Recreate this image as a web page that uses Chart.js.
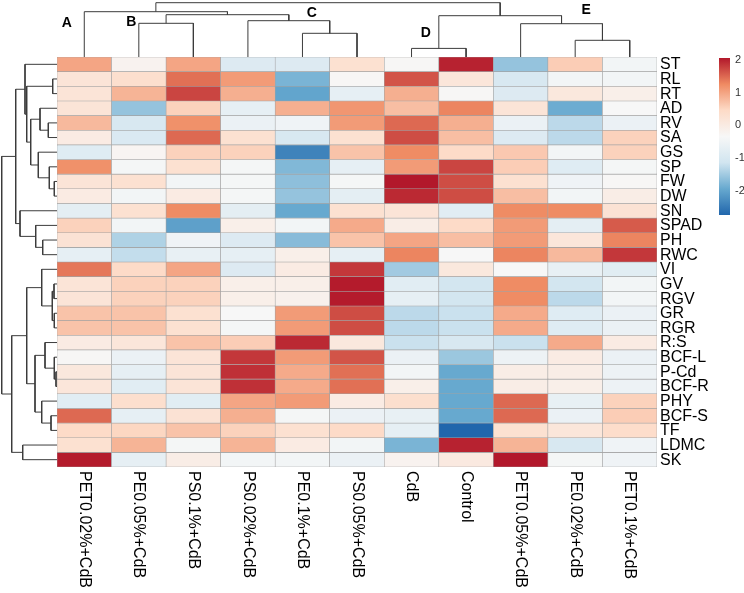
<!DOCTYPE html>
<html><head><meta charset="utf-8">
<script src="https://cdn.jsdelivr.net/npm/chart.js@4.4.1/dist/chart.umd.min.js"></script>
<style>html,body{margin:0;padding:0;background:#fff;}#wrap{width:744px;height:593px;position:relative;}</style>
</head><body><div id="wrap"><canvas id="c" width="744" height="593"></canvas></div>
<script>
// ---------- DATA ----------
const columns = ['PET0.02%+CdB','PE0.05%+CdB','PS0.1%+CdB','PS0.02%+CdB','PE0.1%+CdB','PS0.05%+CdB','CdB','Control','PET0.05%+CdB','PE0.02%+CdB','PET0.1%+CdB'];
const rows = ['ST','RL','RT','AD','RV','SA','GS','SP','FW','DW','SN','SPAD','PH','RWC','VI','GV','RGV','GR','RGR','R:S','BCF-L','P-Cd','BCF-R','PHY','BCF-S','TF','LDMC','SK'];

const row_ST   = [1.0, -0.2, 1.0, -0.9, -0.9, 0.3, -0.3, 2.0, -1.6, 0.6, -0.45];
const row_RL   = [0.2, 0.35, 1.45, 1.1, -1.8, -0.3, 1.65, 0.15, -1.0, -0.45, -0.45];
const row_RT   = [0.2, 0.85, 1.75, 0.9, -2.0, -0.7, 0.9, -0.3, -0.9, 0.1, -0.1];
const row_AD   = [0.2, -1.6, 0.55, -0.7, 0.9, 1.15, 0.75, 1.3, 0.2, -1.9, -0.35];
const row_RV   = [0.8, -1.0, 1.2, -0.6, -0.5, 1.1, 1.5, 0.9, -0.6, -1.3, -0.6];
const row_SA   = [0.0, -0.95, 1.5, 0.3, -1.0, 0.3, 1.7, 0.75, -0.9, -1.3, 0.55];
const row_GS   = [-0.85, -0.25, 0.55, 0.55, -2.4, 0.7, 1.25, 0.45, 0.65, -0.45, 0.55];
const row_SP   = [1.2, -0.4, 0.3, -0.4, -1.75, -0.7, 1.1, 1.75, 0.6, -0.85, -0.4];
const row_FW   = [0.2, 0.3, -0.45, -0.4, -1.65, -0.4, 2.07, 1.7, 0.3, -0.5, -0.3];
const row_DW   = [0.0, -0.45, 0.0, -0.4, -1.6, -0.75, 1.95, 1.7, 0.75, -0.45, -0.05];
const row_SN   = [-0.75, 0.3, 1.25, -0.75, -1.95, 0.3, 0.2, -0.8, 1.25, 1.25, 0.25];
const row_SPAD = [0.55, -0.45, -2.05, -0.1, -0.45, 0.95, -0.05, 0.45, 1.1, -0.75, 1.6];
const row_PH   = [0.25, -1.4, -0.5, -0.9, -1.7, 0.7, 1.0, 0.75, 1.1, 0.15, 1.3];
const row_RWC  = [-0.7, -1.25, -0.65, -0.7, -0.1, -0.7, 1.3, -0.35, 1.3, 0.8, 1.85];
const row_VI   = [1.4, 0.45, 1.0, -0.9, 0.0, 1.85, -1.5, 0.1, -0.35, -0.65, -0.8];
const row_GV   = [0.2, 0.55, 0.55, -0.1, -0.1, 2.05, -0.8, -1.1, 1.25, -1.1, -0.45];
const row_RGV  = [0.2, 0.55, 0.55, -0.1, -0.15, 2.05, -0.7, -1.1, 1.25, -1.3, -0.45];
const row_GR   = [0.7, 0.7, 0.3, -0.35, 1.1, 1.7, -1.3, -1.2, 0.95, -0.85, -0.6];
const row_RGR  = [0.7, 0.7, 0.3, -0.4, 1.1, 1.7, -1.3, -1.2, 0.95, -0.85, -0.6];
const row_RS   = [0.0, 0.15, 0.7, 0.6, 1.95, 0.1, -1.2, -1.0, -1.2, 0.95, 0.0];
const row_BCFL = [-0.3, -0.6, 0.2, 1.85, 1.1, 1.65, -0.6, -1.55, -0.55, 0.0, -0.6];
const row_PCd  = [0.1, -0.7, 0.2, 1.9, 0.95, 1.45, -0.45, -1.95, -0.05, -0.05, -0.55];
const row_BCFR = [0.15, -0.8, 0.2, 1.9, 0.95, 1.45, -0.1, -1.95, -0.05, -0.1, -0.55];
const row_PHY  = [-0.8, 0.35, -0.8, 1.0, 1.1, 0.0, 0.35, -1.95, 1.5, -0.65, 0.55];
const row_BCFS = [1.5, -0.7, 0.25, 0.9, -0.4, -0.6, -0.65, -1.95, 1.5, -0.6, 0.6];
const row_TF   = [0.45, 0.5, 0.7, 0.55, 0.3, 0.45, -0.7, -2.75, 0.3, 0.15, 0.4];
const row_LDMC = [0.3, 0.85, -0.4, 0.85, 0.0, -0.45, -1.8, 2.0, 0.85, -1.0, -0.5];
const row_SK   = [2.05, -0.7, -0.05, -0.45, -0.45, -0.6, -0.2, 0.05, 2.07, -0.4, -0.5];

const matrix = [row_ST,row_RL,row_RT,row_AD,row_RV,row_SA,row_GS,row_SP,row_FW,row_DW,row_SN,row_SPAD,row_PH,row_RWC,row_VI,row_GV,row_RGV,row_GR,row_RGR,row_RS,row_BCFL,row_PCd,row_BCFR,row_PHY,row_BCFS,row_TF,row_LDMC,row_SK];

// colour scale (legend)
const colorMin = -2.75, colorMax = 2.07;
const legendTicks = [2, 1, 0, -1, -2];
const paletteStops = ['#2166AC','#67A9CF','#D1E5F0','#F7F7F7','#FDDBC7','#EF8A62','#B2182B'];

// column dendrogram (R hclust style: negative = leaf index+1, positive = merge number)
const colMerge = [[-2,-3],[-5,-6],[-4,2],[1,3],[-1,4],[-7,-8],[-10,-11],[-9,7],[6,8],[5,9]];
const colHeight = [33.7, 23.7, 36.3, 42.3, 45.3, 8.6, 16.7, 33.3, 41.3, 54.3];
const clusterNames = ['A','B','C','D','E'];
const clusterNameCol = [-0.32, 0.86, 4.17, 6.26, 9.2];
const clusterNameHeight = [34, 35, 44, 24, 46.5];

// row dendrogram
const rowMerge = [[-2,-3],[-5,-6],[-4,2],[-9,-10],[-8,4],[-7,5],[3,6],[1,7],[-1,8],[-13,-14],[-12,10],[-11,11],[9,12],
  [-16,-17],[-18,-19],[14,15],[-15,16],[-22,-23],[-21,18],[-20,19],[-25,-26],[-24,21],[20,22],[17,23],[-27,-28],[24,25],[13,26]];
const rowHeight = [4.3, 8.7, 17, 2.7, 7.7, 18.7, 26.3, 30.3, 32, 14.3, 21.3, 37, 41.3,
  3, 2.7, 4.7, 15.3, 1, 2.7, 12, 6, 15.3, 22, 30.3, 34.3, 45.3, 55.3];

// ---------- LAYOUT ----------
const PAD = {left: 57, top: 57, right: 87, bottom: 126};
const areaW = 744 - PAD.left - PAD.right, areaH = 593 - PAD.top - PAD.bottom;
const colPx = areaW / columns.length, rowPx = areaH / rows.length;
const FONT = "'Liberation Sans', Arial, Helvetica, sans-serif";

function hexToRgb(h){return [parseInt(h.slice(1,3),16),parseInt(h.slice(3,5),16),parseInt(h.slice(5,7),16)];}
const stopRgb = paletteStops.map(hexToRgb);
function colorFor(v){
  let t = (v - colorMin) / (colorMax - colorMin);
  t = Math.max(0, Math.min(1, t));
  const s = t * (stopRgb.length - 1);
  const i = Math.min(stopRgb.length - 2, Math.floor(s));
  const f = s - i;
  const a = stopRgb[i], b = stopRgb[i+1];
  return 'rgb(' + a.map((x,k)=>Math.round(x + (b[k]-x)*f)).join(',') + ')';
}

function buildDendro(merge, heights, leafPos, toPoint){
  const pos = [], hh = [];
  const pts = [];
  const get = (n) => n < 0 ? [leafPos(-n-1), 0] : [pos[n-1], hh[n-1]];
  merge.forEach((m, k) => {
    const [pa, ha] = get(m[0]);
    const [pb, hb] = get(m[1]);
    const H = heights[k];
    pts.push(toPoint(pa, ha), toPoint(pa, H), toPoint(pb, H), toPoint(pb, hb));
    pts.push({x: 0, y: null});
    pos.push((pa + pb) / 2); hh.push(H);
  });
  return pts;
}

const topDendro = buildDendro(colMerge, colHeight, i => i, (p, h) => ({x: p, y: -h / rowPx}));
const leftDendro = buildDendro(rowMerge, rowHeight, i => i + 0.5, (p, h) => ({x: -0.5 - h / colPx, y: p}));

const barSets = matrix.map((vals, r) => ({
  type: 'bar',
  label: rows[r],
  data: vals.map(() => [r, r + 1]),
  backgroundColor: vals.map(colorFor),
  borderColor: '#a2a2a2',
  borderWidth: 0.6,
  borderSkipped: false,
  xAxisID: 'x', yAxisID: 'y',
  barPercentage: 1, categoryPercentage: 1, grouped: false,
  order: 2
}));

const lineStyle = {type: 'line', borderColor: '#3c3c3c', borderWidth: 1, pointRadius: 0, tension: 0,
  spanGaps: false, fill: false, clip: false, xAxisID: 'dx', yAxisID: 'dy', order: 1};

const labelPlugin = {
  id: 'labels',
  afterDraw(chart){
    const ctx = chart.ctx;
    const xs = chart.scales.x, ys = chart.scales.y, dx = chart.scales.dx, dy = chart.scales.dy;
    ctx.save();
    ctx.fillStyle = '#000';
    // row labels
    ctx.font = '16px ' + FONT;
    ctx.textAlign = 'left'; ctx.textBaseline = 'middle';
    rows.forEach((r, i) => ctx.fillText(r, chart.chartArea.right + 3, ys.getPixelForValue(i + 0.5) + 0.5));
    // column labels (rotated clockwise)
    columns.forEach((c, i) => {
      ctx.save();
      ctx.translate(xs.getPixelForValue(i), chart.chartArea.bottom + 4);
      ctx.rotate(Math.PI / 2);
      ctx.textAlign = 'left'; ctx.textBaseline = 'middle';
      ctx.fillText(c, 0, 0);
      ctx.restore();
    });
    // cluster letters
    ctx.font = 'bold 14px ' + FONT;
    ctx.textAlign = 'center'; ctx.textBaseline = 'middle';
    clusterNames.forEach((n, i) => ctx.fillText(n, dx.getPixelForValue(clusterNameCol[i]), dy.getPixelForValue(-clusterNameHeight[i] / rowPx)));
    // colour bar
    const cbX = 719, cbW = 11, cbTop = 58, cbBot = 215;
    const g = ctx.createLinearGradient(0, cbBot, 0, cbTop);
    paletteStops.forEach((c, i) => g.addColorStop(i / (paletteStops.length - 1), c));
    ctx.fillStyle = g;
    ctx.fillRect(cbX, cbTop, cbW, cbBot - cbTop);
    ctx.fillStyle = '#333';
    ctx.font = '11px ' + FONT;
    ctx.textAlign = 'left';
    legendTicks.forEach(t => {
      const y = cbBot - (t - colorMin) / (colorMax - colorMin) * (cbBot - cbTop);
      ctx.fillText(String(t), cbX + cbW + 5, y);
    });
    ctx.restore();
  }
};

new Chart(document.getElementById('c'), {
  type: 'bar',
  data: {
    labels: columns,
    datasets: [
      ...barSets,
      Object.assign({label: 'column dendrogram', data: topDendro}, lineStyle),
      Object.assign({label: 'row dendrogram', data: leftDendro}, lineStyle)
    ]
  },
  options: {
    responsive: false, animation: false, devicePixelRatio: 1,
    layout: {padding: PAD},
    plugins: {legend: {display: false}, tooltip: {enabled: false}},
    events: [],
    scales: {
      x: {type: 'category', display: false, offset: true},
      y: {type: 'linear', display: false, min: 0, max: rows.length, reverse: true, offset: false},
      dx: {type: 'linear', axis: 'x', display: false, min: -0.5, max: columns.length - 0.5, offset: false, grid: {offset: false}},
      dy: {type: 'linear', axis: 'y', display: false, min: 0, max: rows.length, reverse: true, offset: false}
    }
  },
  plugins: [labelPlugin]
});
</script></body></html>
